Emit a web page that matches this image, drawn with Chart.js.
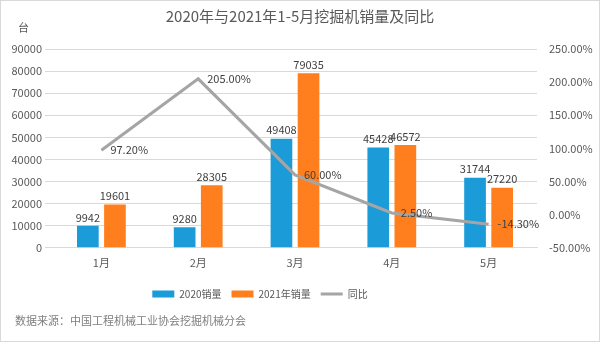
<!doctype html>
<html>
<head>
	<meta charset="utf-8">
	<title>挖掘机销量</title>
	<script src="https://cdn.jsdelivr.net/npm/chart.js@4/dist/chart.umd.min.js"></script>
	<style>
		body {
			margin: 0;
			background: #fff;
		}
		.frame {
			width: 600px;
			height: 342px;
			box-sizing: border-box;
			border: 1px solid #d9d9d9;
			position: relative;
		}
	</style>
</head>
<body>
	<div class="frame">
		<canvas id="SalesChart"></canvas>
	</div>
	<script>
		var months = ['1月', '2月', '3月', '4月', '5月'];
		var sales2020 = [9942, 9280, 49408, 45428, 31744];
		var sales2021 = [19601, 28305, 79035, 46572, 27220];
		var yoyValues = [97.2, 205, 60, 2.5, -14.3];

		var font = '"Noto Sans CJK SC", "Noto Sans", sans-serif';
		var textColor = '#595959';

		// value labels on bars and line, plus unit and source text
		var labelPlugin = {
			id: 'labels',
			afterLayout: function (chart) {
				chart.legend.right -= 80;
			},
			afterDatasetsDraw: function (chart) {
				var ctx = chart.ctx;
				ctx.save();
				ctx.font = '11px ' + font;
				ctx.fillStyle = '#404040';
				chart.data.datasets.forEach(function (ds, i) {
					var meta = chart.getDatasetMeta(i);
					meta.data.forEach(function (el, j) {
						if (ds.type === 'line') {
							ctx.textAlign = 'left';
							ctx.textBaseline = 'middle';
							ctx.fillText(ds.data[j].toFixed(2) + '%', el.x + 9, el.y);
						} else {
							ctx.textAlign = 'center';
							ctx.textBaseline = 'bottom';
							ctx.fillText(ds.data[j], el.x, el.y - 3);
						}
					});
				});
				ctx.fillStyle = textColor;
				ctx.textAlign = 'left';
				ctx.textBaseline = 'middle';
				ctx.fillText('台', 17, 27);
				ctx.fillStyle = '#7f7f7f';
				ctx.fillText('数据来源：中国工程机械工业协会挖掘机械分会', 14, 320);
				ctx.restore();
			}
		};

		new Chart('SalesChart', {
			data: {
				labels: months,
				datasets: [
					{
						type: 'bar',
						label: '2020销量',
						data: sales2020,
						backgroundColor: '#1b9bd8',
						yAxisID: 'y',
						order: 1,
						barPercentage: 0.8,
						categoryPercentage: 0.56
					},
					{
						type: 'bar',
						label: '2021年销量',
						data: sales2021,
						backgroundColor: '#ff7f1e',
						yAxisID: 'y',
						order: 1,
						barPercentage: 0.8,
						categoryPercentage: 0.56
					},
					{
						type: 'line',
						label: '同比',
						data: yoyValues,
						borderColor: '#a5a5a5',
						backgroundColor: '#a5a5a5',
						borderWidth: 3,
						pointRadius: 0,
						tension: 0,
						yAxisID: 'y1',
						order: 0
					}
				]
			},
			options: {
				responsive: true,
				maintainAspectRatio: false,
				animation: false,
				layout: {
					padding: { left: 0, right: 0, top: 0, bottom: 32 }
				},
				plugins: {
					title: {
						display: true,
						text: '2020年与2021年1-5月挖掘机销量及同比',
						color: textColor,
						font: { family: font, size: 15, weight: 'normal' },
						padding: { top: 6, bottom: 24 }
					},
					legend: {
						position: 'bottom',
						labels: {
							color: textColor,
							font: { family: font, size: 10 },
							usePointStyle: true,
							pointStyleWidth: 22,
							boxHeight: 7,
							padding: 10,
							sort: function (a, b) { return a.datasetIndex - b.datasetIndex; },
							generateLabels: function (chart) {
								var items = Chart.defaults.plugins.legend.labels.generateLabels(chart);
								items.forEach(function (it) {
									var ds = chart.data.datasets[it.datasetIndex];
									it.pointStyle = ds.type === 'line' ? 'line' : 'rect';
									it.lineWidth = ds.type === 'line' ? 3 : 0;
									it.strokeStyle = ds.type === 'line' ? '#a5a5a5' : it.fillStyle;
								});
								return items;
							}
						}
					},
					tooltip: { enabled: false }
				},
				scales: {
					x: {
						grid: { display: false },
						border: { color: '#d9d9d9' },
						ticks: {
							color: textColor,
							font: { family: font, size: 11 },
							padding: 0
						},
						afterFit: function (scale) { scale.height += 10; }
					},
					y: {
						position: 'left',
						min: 0,
						max: 90000,
						ticks: {
							stepSize: 10000,
							color: textColor,
							font: { family: font, size: 11 },
							callback: function (v) { return String(v); }
						},
						grid: { color: '#d9d9d9' },
						border: { display: false },
						afterFit: function (scale) { scale.width = 52; }
					},
					y1: {
						position: 'right',
						min: -50,
						max: 250,
						ticks: {
							stepSize: 50,
							color: textColor,
							font: { family: font, size: 11 },
							padding: 4,
							callback: function (v) { return v.toFixed(2) + '%'; }
						},
						grid: { drawOnChartArea: false, display: false },
						border: { display: false },
						afterFit: function (scale) { scale.width = 62; }
					}
				}
			},
			plugins: [labelPlugin]
		});
	</script>
</body>
</html>
